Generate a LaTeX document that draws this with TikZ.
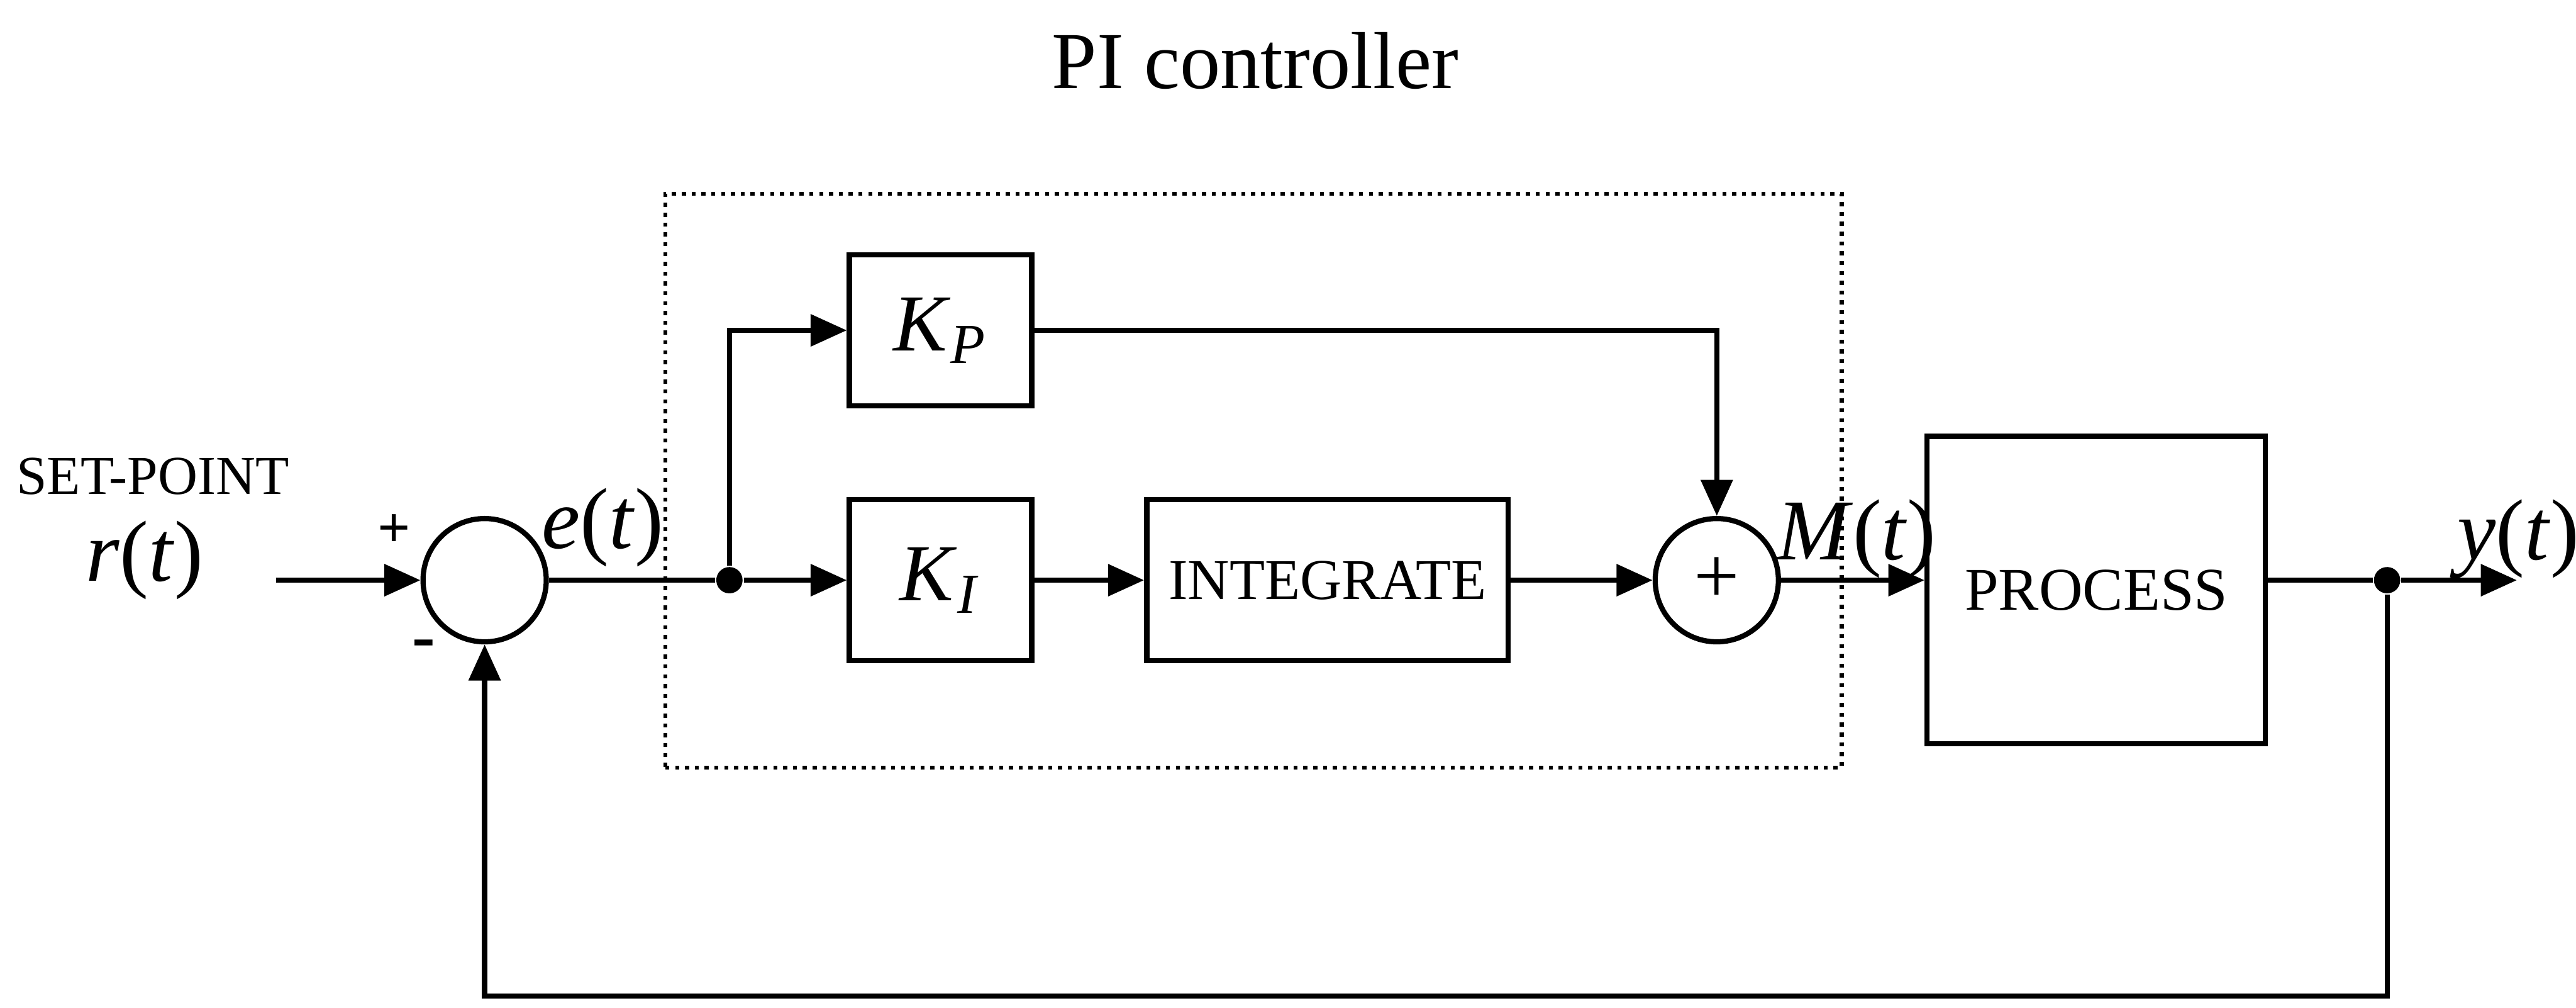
\documentclass[tikz,border=0pt]{standalone}
\usepackage{fontspec}
\setmainfont{Liberation Serif}
\usetikzlibrary{shapes,arrows.meta,positioning,calc}

\tikzset{
  blockbox/.style={draw, line width=0.9pt, inner sep=0pt},
  sumnode/.style={draw, circle, line width=0.9pt, minimum size=0.75cm, inner sep=0pt},
  joint/.style={circle, fill, minimum size=0.16cm, inner sep=0pt},
  sig/.style={line width=0.9pt, -{Triangle[length=0.22cm,width=0.19cm]}},
  wire/.style={line width=0.9pt},
  mathlbl/.style={font=\fontsize{15}{17}\selectfont, inner sep=0pt},
}

\begin{document}
\begin{tikzpicture}[font=\fontsize{10}{12}\selectfont]
  \useasboundingbox (0,0) rectangle (15.68,6.13);

  \node[font=\fontsize{14}{16}\selectfont] (title) at (7.64,5.76) {PI controller};

  % controller frame
  \node[draw, densely dotted, line width=0.7pt, minimum width=7.16cm, minimum height=3.49cm] (pibox) at (7.63,3.205) {};

  \node[sumnode] (sumerr) at (2.95,2.6) {};
  \node[joint] (split) at (4.44,2.6) {};
  \node[blockbox, minimum width=1.11cm, minimum height=0.92cm, font=\fontsize{14}{16}\selectfont] (kp) at (5.725,4.12) {\textit{K}\textsubscript{\textit{P}}};
  \node[blockbox, minimum width=1.11cm, minimum height=0.98cm, font=\fontsize{14}{16}\selectfont] (ki) at (5.725,2.6) {\textit{K}\textsubscript{\textit{I}}};
  \node[blockbox, minimum width=2.2cm, minimum height=0.98cm] (integ) at (8.08,2.6) {INTEGRATE};
  \node[sumnode, font=\fontsize{14}{16}\selectfont] (sumout) at (10.45,2.6) {+};
  \node[blockbox, minimum width=2.06cm, minimum height=1.87cm, font=\fontsize{10.5}{12}\selectfont] (process) at (12.76,2.54) {PROCESS};
  \node[joint] (split2) at (14.53,2.6) {};

  \coordinate (rin) at (1.68,2.6);
  \coordinate (yout) at (15.32,2.6);
  \coordinate (fbcorner) at (14.53,0.07);

  % labels
  \node[font=\fontsize{9.5}{11}\selectfont] (setpoint) at (0.93,3.23) {SET-POINT};
  \node[mathlbl] (rlbl) at (0.88,2.72) {\textit{r}(\textit{t})};
  \node[font=\fontsize{10}{12}\selectfont\bfseries] (plus) at (2.40,2.90) {+};
  \node[font=\fontsize{12}{14}\selectfont\bfseries] (minus) at (2.58,2.18) {-};
  \node[mathlbl] (elbl) at (3.67,2.92) {\textit{e}(\textit{t})};
  \node[mathlbl] (mlbl) at (11.30,2.85) {\textit{M}(\textit{t})};
  \node[mathlbl] (ylbl) at (15.33,2.85) {\textit{y}(\textit{t})};

  % signal lines
  \draw[sig] (rin) -- (sumerr.west);
  \draw[wire] (sumerr.east) -- (split);
  \draw[sig] (split) |- (kp.west);
  \draw[sig] (split) -- (ki.west);
  \draw[sig] (ki.east) -- (integ.west);
  \draw[sig] (integ.east) -- (sumout.west);
  \draw[sig] (kp.east) -| (sumout.north);
  \draw[sig] (sumout.east) -- (sumout.east -| process.west);
  \draw[wire] (split2 -| process.east) -- (split2);
  \draw[sig] (split2) -- (yout);
  \draw[sig] (split2) -- (fbcorner) -| (sumerr.south);
\end{tikzpicture}
\end{document}
